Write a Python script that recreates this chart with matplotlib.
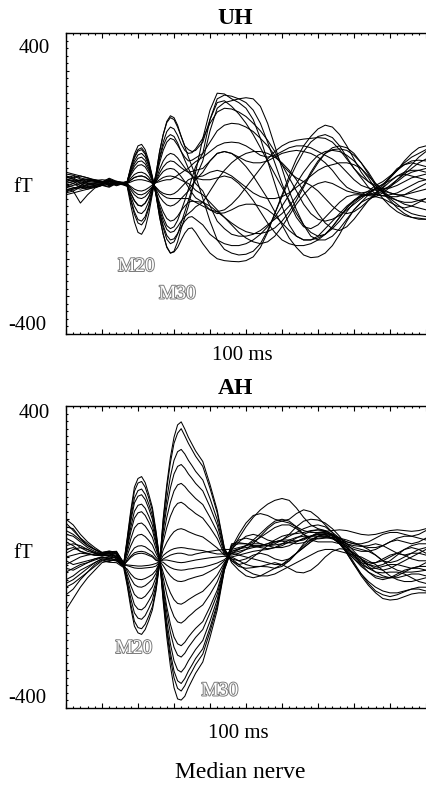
import matplotlib
matplotlib.use("Agg")
import matplotlib.pyplot as plt
import matplotlib.patheffects as pe
from matplotlib.ticker import MultipleLocator

# ---------------------------------------------------------------- data
# time after stimulus (ms); 1 ms steps around the M20 / M30 deflections
t_ms = [0, 2, 4, 6, 8, 10, 12, 14, 16,
        17, 18, 19, 20, 21, 22, 23, 24, 25, 26, 27, 28, 29, 30, 31, 32, 33, 34, 35, 36,
        38, 40, 42, 44, 46, 48, 50, 52, 54, 56, 58, 60, 62, 64, 66, 68, 70, 72, 74, 76,
        78, 80, 82, 84, 86, 88, 90, 92, 94, 96, 98, 100]

# UH: field traces (fT), one list per channel
uh_ch01 = [15, 20, 12, 5, 8, 10, 8, 2, 3,
           5, 45, 78, 100, 104, 90, 60, 18, -30, -90, -135, -170, -185, -180, -155, -120, -90, -60, -20, 30,
           120, 195, 240, 238, 225, 215, 200, 170, 120, 60, 0, -60, -110, -140, -150, -150, -140, -120, -100, -80,
           -60, -45, -35, -30, -30, -20, -5, 10, 30, 50, 70, 85]
uh_ch02 = [-10, -5, 0, 8, 10, 6, -4, 0, 2,
           5, 40, 68, 86, 90, 78, 52, 15, -28, -80, -118, -148, -160, -155, -135, -105, -75, -45, -15, 15,
           60, 140, 200, 215, 220, 225, 228, 225, 205, 160, 100, 40, -20, -70, -110, -140, -150, -150, -140, -120,
           -95, -70, -50, -30, -12, -22, -40, -55, -70, -80, -85, -88]
uh_ch03 = [25, 22, 15, 10, 5, 3, 12, 4, 2,
           3, 27, 46, 58, 60, 52, 35, 10, -22, -60, -90, -112, -120, -115, -98, -72, -45, -15, 15, 45,
           80, 170, 215, 220, 205, 185, 160, 130, 95, 60, 25, -10, -45, -80, -110, -130, -140, -135, -115, -90,
           -65, -45, -30, -20, -5, 5, 20, 35, 55, 70, 80, 90]
uh_ch04 = [-20, -15, -10, -12, -8, -4, -8, 2, -2,
           -5, -27, -46, -58, -60, -52, -36, -10, 25, 85, 130, 165, 180, 175, 155, 125, 100, 90, 85, 88,
           110, 170, 225, 235, 232, 225, 215, 195, 160, 110, 55, 0, -50, -90, -115, -120, -110, -90, -70, -50,
           -35, -30, -30, -32, -35, -40, -50, -60, -65, -60, -50, -40]
uh_ch05 = [5, 0, -10, -15, -10, -5, 5, 0, -3,
           -5, -42, -75, -96, -100, -88, -60, -20, 20, 70, 110, 138, 150, 145, 128, 105, 88, 80, 82, 92,
           120, 160, 190, 200, 198, 190, 178, 160, 140, 115, 85, 50, 15, -20, -55, -80, -95, -100, -95, -85,
           -70, -55, -40, -25, -12, -2, 8, 20, 25, 20, 15, 10]
uh_ch06 = [30, 25, 20, 15, 8, 4, 10, 0, -2,
           -4, -34, -60, -77, -80, -70, -48, -16, 15, 55, 88, 110, 120, 116, 102, 85, 70, 60, 62, 68,
           80, 110, 140, 155, 160, 158, 150, 138, 120, 100, 75, 50, 30, 15, 5, -5, -20, -40, -60, -75,
           -80, -75, -62, -45, -30, -10, 15, 35, 50, 60, 62, 60]
uh_ch07 = [-5, -10, -15, -10, -5, 0, 2, -6, 0,
           0, -12, -22, -29, -30, -26, -18, -8, 5, 28, 44, 55, 60, 58, 50, 42, 35, 30, 32, 35,
           40, 60, 80, 85, 80, 70, 60, 55, 55, 60, 70, 80, 85, 88, 85, 80, 70, 55, 35, 10,
           -10, -20, -25, -22, -15, -14, -12, -5, 5, 15, 20, 25]
uh_ch08 = [10, 15, 20, 15, 10, 5, -2, 6, 3,
           5, 40, 72, 90, 95, 82, 55, 16, -30, -88, -135, -168, -185, -182, -170, -150, -132, -120, -118, -130,
           -160, -185, -200, -205, -207, -208, -205, -195, -170, -130, -80, -30, 20, 65, 100, 125, 145, 155, 150, 130,
           100, 65, 30, 5, -5, -25, -45, -65, -80, -90, -95, -95]
uh_ch09 = [-30, -25, -20, -15, -10, -5, -10, 0, -4,
           -8, -58, -102, -130, -135, -118, -80, -28, 25, 85, 130, 162, 175, 170, 150, 125, 98, 70, 45, 20,
           -40, -100, -150, -175, -185, -190, -188, -180, -160, -125, -80, -35, 10, 50, 85, 110, 125, 130, 122, 100,
           70, 40, 15, -10, -28, -33, -30, -25, -15, -5, 5, 10]
uh_ch10 = [0, 5, 10, 12, 8, 4, 6, 1, 2,
           4, 35, 60, 76, 80, 70, 47, 12, -28, -75, -112, -138, -150, -147, -133, -115, -100, -90, -88, -95,
           -110, -135, -150, -160, -165, -165, -160, -150, -135, -115, -90, -60, -30, 0, 30, 55, 75, 85, 88, 85,
           75, 60, 40, 15, -15, -40, -60, -75, -85, -90, -92, -95]
uh_ch11 = [-15, -20, -52, -30, -12, -5, -2, 4, -3,
           -6, -46, -82, -105, -110, -96, -65, -22, 20, 65, 100, 122, 130, 125, 108, 85, 62, 40, 20, 0,
           -20, -60, -100, -120, -135, -140, -140, -135, -125, -110, -95, -80, -60, -35, -5, 30, 60, 80, 90, 92,
           88, 75, 55, 30, 0, -20, -35, -45, -50, -50, -45, -40]
uh_ch12 = [20, 15, 5, 0, 2, 4, 14, 6, 1,
           3, 22, 38, 48, 50, 44, 28, 6, -20, -52, -76, -93, -100, -97, -87, -72, -60, -50, -47, -48,
           -50, -60, -75, -90, -105, -118, -128, -133, -133, -128, -118, -100, -75, -45, -10, 25, 55, 80, 95, 100,
           95, 80, 55, 25, -5, -25, -35, -35, -30, -20, -10, 0]
uh_ch13 = [-10, -15, -5, 5, 8, 5, -6, 0, 1,
           2, 14, 24, 29, 30, 26, 17, 2, -15, -35, -48, -57, -60, -57, -50, -40, -30, -20, -5, 10,
           30, 60, 80, 85, 80, 65, 45, 20, -10, -40, -75, -110, -145, -170, -190, -197, -195, -185, -165, -135,
           -100, -70, -50, -40, -35, -25, -10, 10, 25, 40, 55, 65]
uh_ch14 = [10, 5, -5, -10, -8, -4, 4, -3, -2,
           -3, -25, -45, -57, -60, -52, -35, -12, 10, 38, 60, 74, 80, 77, 68, 55, 42, 30, 20, 14,
           10, 10, 15, 20, 15, 0, -20, -45, -75, -105, -130, -150, -160, -165, -165, -160, -150, -135, -115, -90,
           -65, -45, -32, -28, -25, -12, 5, 20, 30, 35, 35, 30]
uh_ch15 = [-25, -20, -10, -5, -2, 0, 8, 2, 1,
           1, 9, 16, 19, 20, 17, 10, 0, -12, -24, -32, -38, -40, -40, -40, -40, -40, -40, -45, -50,
           -60, -70, -75, -70, -55, -35, -10, 15, 40, 65, 85, 100, 110, 115, 118, 120, 122, 120, 110, 90,
           65, 40, 20, 5, -10, -20, -25, -30, -35, -40, -45, -50]
uh_ch16 = [5, 10, 8, 2, 0, 2, -3, 3, 1,
           1, 9, 16, 19, 20, 17, 10, 0, -10, -20, -26, -29, -30, -27, -20, -10, 0, 10, 14, 17,
           20, 30, 35, 30, 20, 5, -10, -25, -35, -40, -40, -35, -25, -10, 5, 20, 35, 45, 50, 55,
           55, 50, 40, 20, 0, -15, -25, -30, -30, -25, -20, -15]
uh_ch17 = [18, 12, 0, -8, -5, -2, 6, 0, -1,
           -2, -17, -30, -38, -40, -35, -24, -10, 5, 20, 32, 38, 40, 38, 30, 18, 5, -10, -25, -38,
           -50, -70, -80, -78, -70, -60, -55, -55, -60, -70, -85, -105, -125, -140, -150, -150, -145, -135, -120, -100,
           -75, -50, -35, -25, -15, -2, 15, 35, 60, 80, 95, 100]
uh_ch18 = [-8, 0, 8, 10, 6, 3, -5, 0, 2,
           4, 30, 53, 67, 70, 61, 40, 10, -25, -68, -100, -122, -130, -127, -115, -100, -88, -80, -72, -62,
           -50, -20, 10, 35, 55, 70, 80, 85, 85, 80, 70, 55, 35, 10, -20, -50, -80, -105, -120, -125,
           -115, -95, -70, -45, -25, -5, 18, 40, 50, 55, 50, 45]
uh_ch19 = [12, 8, 2, -2, -4, -2, 10, 5, -1,
           -1, -8, -15, -19, -20, -17, -11, -4, 3, 10, 16, 19, 20, 18, 14, 9, 4, 0, -8, -18,
           -30, -50, -70, -90, -110, -130, -145, -155, -160, -155, -140, -115, -85, -55, -30, -10, 0, 5, 0, -10,
           -20, -25, -28, -30, -30, -32, -38, -45, -55, -60, -65, -70]
uh_ch20 = [-18, -12, -8, -2, 2, 2, 0, -4, 0,
           0, 4, 8, 10, 10, 8, 5, 2, 2, 5, 8, 10, 10, 15, 22, 28, 35, 40, 50, 58,
           70, 85, 100, 108, 110, 108, 100, 88, 75, 70, 75, 85, 95, 100, 100, 95, 85, 75, 65, 50,
           30, 10, -5, -12, -18, -15, -8, 5, 20, 30, 35, 40]

# AH: field traces (fT), one list per channel
ah_ch01 = [60, 55, 40, 25, 15, 8, 12, 0, -20,
           50, 124, 185, 208, 213, 197, 166, 131, 69, -6, -119, -213, -289, -346, -376, -379, -369, -346, -327, -308,
           -278, -213, -141, -35, 20, 50, 80, 105, 125, 140, 150, 155, 150, 130, 105, 85, 75, 70, 60, 45,
           25, 5, -10, -20, -25, -20, -10, 5, 20, 30, 35, 35]
ah_ch02 = [-140, -110, -80, -55, -35, -15, -10, -5, -22,
           46, 116, 174, 196, 200, 185, 156, 123, 64, -6, -110, -198, -268, -320, -348, -355, -341, -320, -303, -285,
           -257, -198, -131, -33, 25, 60, 90, 110, 115, 110, 100, 95, 100, 115, 125, 120, 105, 85, 65, 50,
           40, 35, 35, 40, 50, 60, 65, 65, 60, 55, 60, 70]
ah_ch03 = [100, 85, 60, 40, 25, 12, 15, 8, -20,
           40, 104, 156, 176, 180, 166, 140, 110, 56, -7, -104, -187, -253, -302, -328, -335, -322, -302, -286, -269,
           -243, -187, -124, -31, 20, 40, 55, 60, 55, 45, 40, 45, 60, 80, 95, 100, 98, 90, 75, 55,
           30, 5, -20, -40, -55, -60, -55, -45, -35, -30, -30, -35]
ah_ch04 = [-40, -30, -20, -15, -5, 0, -6, 0, -25,
           36, 95, 143, 161, 165, 152, 128, 100, 50, -7, -95, -170, -230, -275, -299, -305, -293, -275, -260, -245,
           -221, -170, -113, -29, 30, 45, 50, 45, 35, 30, 35, 45, 55, 65, 75, 82, 85, 80, 65, 40,
           10, -20, -45, -65, -80, -90, -95, -95, -90, -85, -85, -90]
ah_ch05 = [30, 35, 30, 20, 12, 8, 10, 10, -18,
           28, 79, 121, 137, 140, 129, 108, 84, 41, -8, -83, -148, -200, -239, -260, -265, -255, -239, -226, -213,
           -192, -148, -99, -26, 35, 38, 35, 30, 30, 35, 45, 55, 60, 62, 65, 70, 72, 70, 60, 40,
           15, -15, -45, -70, -90, -100, -105, -100, -92, -85, -80, -80]
ah_ch06 = [-80, -70, -55, -40, -20, -8, -12, -5, -24,
           22, 67, 103, 117, 120, 110, 92, 71, 33, -8, -74, -132, -178, -212, -230, -235, -226, -212, -200, -189,
           -171, -132, -88, -23, 30, 35, 35, 30, 25, 22, 25, 30, 40, 50, 60, 68, 72, 68, 55, 35,
           10, -20, -50, -75, -95, -110, -114, -112, -105, -98, -95, -95]
ah_ch07 = [80, 75, 50, 30, 20, 10, 14, 15, -15,
           13, 48, 77, 88, 90, 82, 68, 52, 22, -9, -56, -99, -133, -158, -172, -175, -168, -158, -150, -141,
           -127, -99, -66, -19, 15, 22, 25, 28, 30, 35, 40, 45, 45, 42, 45, 55, 62, 60, 50, 35,
           15, -5, -25, -40, -50, -55, -55, -50, -40, -30, -25, -25]
ah_ch08 = [10, 20, 25, 20, 10, 5, 3, 5, -20,
           4, 30, 50, 58, 60, 54, 44, 32, 10, -10, -41, -71, -95, -113, -123, -125, -120, -113, -107, -101,
           -91, -71, -48, -15, 10, 20, 30, 40, 52, 65, 78, 85, 85, 75, 60, 50, 48, 50, 52, 50,
           45, 38, 30, 25, 25, 30, 40, 50, 55, 55, 50, 45]
ah_ch09 = [-60, -50, -35, -25, -15, -5, -8, -10, -25,
           -5, 11, 24, 29, 30, 27, 20, 13, -1, -11, -23, -38, -50, -59, -64, -65, -63, -59, -56, -53,
           -48, -38, -27, -10, 0, 5, 10, 15, 18, 20, 25, 35, 45, 52, 55, 55, 55, 55, 50, 40,
           20, 0, -15, -20, -15, -5, 5, 10, 5, -5, -10, -10]
ah_ch10 = [40, 30, 15, 10, 5, 5, 9, 0, -20,
           -10, 2, 11, 14, 15, 13, 8, 3, -7, -12, -5, 0, 5, 8, 10, 10, 8, 5, 5, 8,
           12, 15, 18, 20, 20, 25, 30, 35, 35, 30, 25, 25, 30, 40, 50, 55, 60, 58, 50, 35,
           15, -5, -20, -30, -30, -25, -20, -20, -25, -30, -25, -15]
ah_ch11 = [-100, -85, -60, -40, -25, -10, -14, -15, -28,
           -76, -135, -183, -201, -205, -192, -168, -140, -90, -18, 102, 192, 264, 317, 350, 358, 339, 317, 299, 281,
           253, 192, 124, 24, -15, -35, -50, -55, -50, -40, -30, -20, -5, 10, 25, 40, 50, 52, 48, 40,
           30, 20, 15, 15, 20, 30, 40, 45, 40, 35, 40, 50]
ah_ch12 = [70, 60, 45, 30, 20, 12, 16, 12, -18,
           -71, -125, -170, -187, -190, -178, -156, -131, -85, -18, 97, 182, 250, 301, 328, 340, 321, 301, 284, 267,
           240, 182, 117, 22, -10, -25, -30, -28, -25, -26, -30, -25, -10, 10, 30, 45, 55, 55, 50, 42,
           35, 30, 28, 30, 35, 30, 20, 10, 5, 10, 20, 25]
ah_ch13 = [-20, -10, 0, 5, 8, 6, 1, 0, -22,
           -64, -110, -148, -162, -165, -155, -136, -114, -75, -17, 82, 155, 213, 256, 279, 285, 273, 256, 242, 227,
           204, 155, 99, 18, -10, -20, -15, 0, 15, 30, 40, 42, 38, 35, 38, 45, 55, 60, 55, 45,
           35, 25, 20, 15, 5, -10, -25, -35, -40, -40, -38, -35]
ah_ch14 = [50, 40, 25, 15, 10, 6, 8, 5, -20,
           -56, -94, -126, -138, -140, -132, -116, -98, -66, -16, 70, 133, 183, 220, 240, 245, 235, 220, 208, 195,
           175, 133, 85, 15, -5, -10, -5, 5, 10, 5, -5, -10, -5, 10, 25, 40, 55, 62, 60, 50,
           35, 15, -5, -25, -40, -50, -55, -55, -50, -45, -45, -50]
ah_ch15 = [-30, -35, -25, -15, -8, -2, -4, -8, -25,
           -47, -76, -99, -108, -110, -104, -92, -79, -54, -15, 55, 105, 145, 175, 191, 195, 187, 175, 165, 155,
           139, 105, 67, 11, 5, 10, 20, 35, 55, 75, 90, 95, 90, 80, 70, 65, 65, 68, 70, 72,
           70, 65, 60, 58, 60, 65, 70, 72, 70, 68, 70, 75]
ah_ch16 = [90, 70, 50, 35, 20, 10, 12, 10, -18,
           -38, -57, -73, -79, -80, -76, -68, -59, -43, -14, 40, 78, 108, 130, 142, 145, 139, 130, 123, 115,
           103, 78, 49, 7, -5, -20, -35, -45, -50, -50, -45, -35, -25, -15, -5, 5, 15, 20, 20, 15,
           10, 5, 0, -10, -20, -35, -50, -60, -65, -65, -60, -55]
ah_ch17 = [-70, -60, -45, -30, -15, -5, -8, -10, -26,
           -32, -45, -55, -59, -60, -57, -52, -46, -35, -14, 19, 39, 55, 67, 73, 75, 72, 67, 63, 59,
           53, 39, 24, 5, 10, 5, 0, -5, -10, -15, -20, -20, -10, 10, 35, 55, 65, 65, 58, 48,
           40, 35, 30, 20, 5, -10, -15, -10, 0, 10, 10, 5]
ah_ch18 = [20, 25, 15, 8, 5, 5, 4, 15, -15,
           -23, -26, -29, -30, -30, -29, -28, -27, -24, -13, 4, 12, 18, 22, 24, 25, 24, 22, 21, 19,
           17, 12, 8, 8, 15, 20, 30, 45, 62, 80, 95, 100, 95, 80, 60, 45, 40, 40, 40, 35,
           25, 10, -5, -15, -15, -10, 0, 10, 20, 25, 20, 10]
ah_ch19 = [-10, -20, -15, -10, -5, 0, -2, 0, -22,
           -11, -1, 6, 9, 10, 8, 4, 0, -9, -12, -14, -22, -28, -32, -34, -35, -34, -32, -31, -29,
           -27, -22, -16, -7, 10, 15, 20, 25, 28, 30, 32, 35, 38, 42, 48, 55, 60, 62, 58, 45,
           25, 5, -15, -30, -40, -42, -40, -40, -45, -55, -65, -70]
ah_ch20 = [0, 5, 10, 8, 5, 3, 6, -5, -24,
           -21, -22, -23, -24, -24, -23, -22, -20, -17, -12, -8, -8, -10, -12, -14, -15, -14, -12, -10, -8,
           -5, -2, 0, 2, 0, -10, -20, -25, -25, -20, -15, -20, -30, -40, -42, -35, -20, 0, 15, 22,
           20, 10, -5, -20, -30, -35, -30, -20, -10, 0, 10, 20]

uh_traces = [uh_ch01, uh_ch02, uh_ch03, uh_ch04, uh_ch05, uh_ch06, uh_ch07, uh_ch08, uh_ch09, uh_ch10,
             uh_ch11, uh_ch12, uh_ch13, uh_ch14, uh_ch15, uh_ch16, uh_ch17, uh_ch18, uh_ch19, uh_ch20]
ah_traces = [ah_ch01, ah_ch02, ah_ch03, ah_ch04, ah_ch05, ah_ch06, ah_ch07, ah_ch08, ah_ch09, ah_ch10,
             ah_ch11, ah_ch12, ah_ch13, ah_ch14, ah_ch15, ah_ch16, ah_ch17, ah_ch18, ah_ch19, ah_ch20]

panel_titles = ["UH", "AH"]
y_top_label, y_mid_label, y_bottom_label = "400", "fT", "-400"
x_label = "100 ms"
fig_caption = "Median nerve"

# ---------------------------------------------------------------- figure
W, H = 426, 785
SERIF = ["Liberation Serif", "DejaVu Serif"]
fig = plt.figure(figsize=(W / 100, H / 100), dpi=100)


def fx(px):
    return px / W


def fy(py):
    return 1 - py / H


def make_panel(top_px, bottom_px, traces):
    ax = fig.add_axes([fx(66), fy(bottom_px), 360 / W, (bottom_px - top_px) / H])
    for tr in traces:
        ax.plot(t_ms, tr, color="black", lw=0.75, solid_joinstyle="round")
    ax.set_xlim(0, 100)
    ax.set_ylim(-400, 400)
    ax.spines["right"].set_visible(False)
    for side in ("left", "top", "bottom"):
        ax.spines[side].set_linewidth(1.0)
    ax.xaxis.set_major_locator(MultipleLocator(10))
    ax.xaxis.set_minor_locator(MultipleLocator(2))
    ax.yaxis.set_major_locator(MultipleLocator(100))
    ax.yaxis.set_minor_locator(MultipleLocator(20))
    ax.tick_params(which="both", direction="in", top=True, bottom=True, left=True, right=False,
                   labelbottom=False, labelleft=False, width=0.8)
    ax.tick_params(axis="x", which="major", length=3.5)
    ax.tick_params(axis="x", which="minor", length=1.6)
    ax.tick_params(axis="y", which="major", length=2.0)
    ax.tick_params(axis="y", which="minor", length=1.5)
    return ax


ax_uh = make_panel(33, 334, uh_traces)
ax_ah = make_panel(406, 708, ah_traces)

txt = dict(family=SERIF, ha="center", va="center", color="black")

# panel titles
fig.text(fx(235), fy(19), panel_titles[0], fontsize=17, fontweight="bold", **txt)
fig.text(fx(235), fy(389), panel_titles[1], fontsize=17, fontweight="bold", **txt)

# amplitude labels
for y400, yft, ym400 in ((48.5, 187, 325), (413.5, 553, 698.5)):
    fig.text(fx(50), fy(y400), y_top_label, fontsize=15, family=SERIF, ha="right", va="center")
    fig.text(fx(23), fy(yft), y_mid_label, fontsize=15, family=SERIF, ha="center", va="center")
    fig.text(fx(46), fy(ym400), y_bottom_label, fontsize=15, family=SERIF, ha="right", va="center")

# time-scale labels and caption
fig.text(fx(242), fy(356), x_label, fontsize=15, **txt)
fig.text(fx(238), fy(734), x_label, fontsize=15, **txt)
fig.text(fx(240), fy(772), fig_caption, fontsize=17, **txt)

# hollow component labels
hollow = [pe.withStroke(linewidth=1.4, foreground="#7c7c7c")]
for (x, y, s) in ((136.5, 266.5, "M20"), (177.5, 294, "M30"),
                  (134, 648.5, "M20"), (220, 691, "M30")):
    fig.text(fx(x), fy(y), s, fontsize=14, family=SERIF, ha="center", va="center",
             color="white", path_effects=hollow)

fig.savefig("out.png", dpi=100)
